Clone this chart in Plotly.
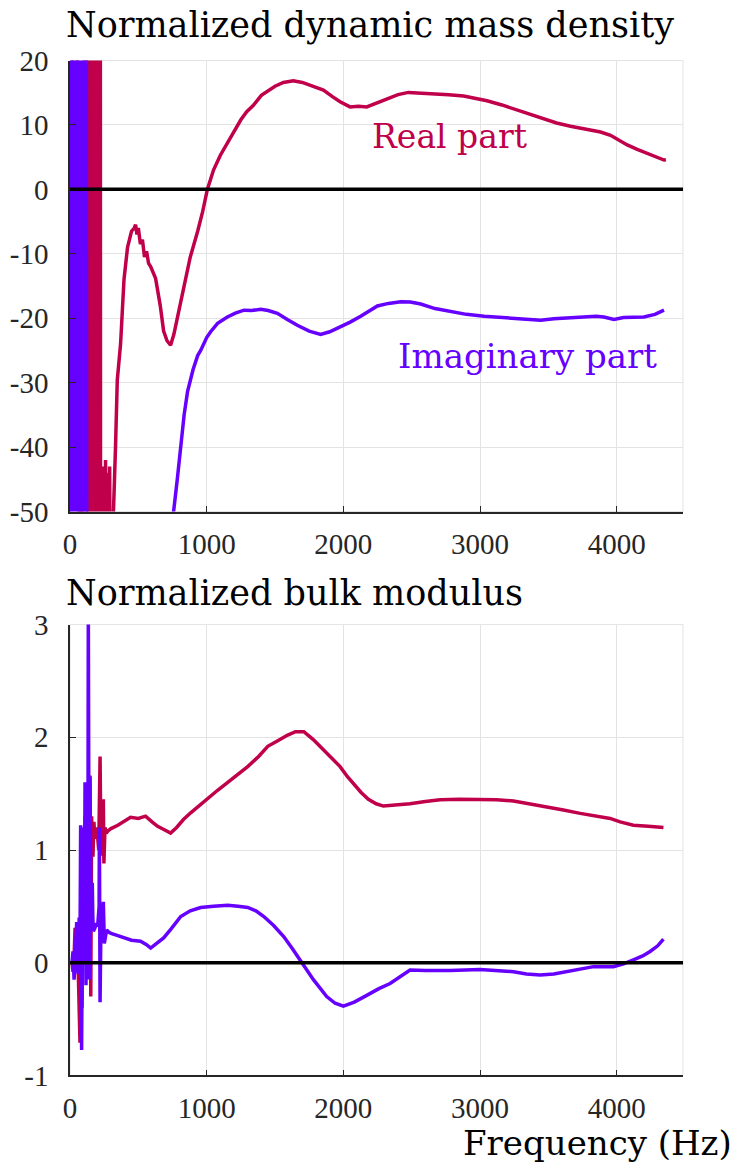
import plotly.graph_objects as go

# ---------------- data ----------------
# Top: normalized dynamic mass density
freq_rho_re = [0, 40, 80, 120, 130, 133, 136, 139, 142, 145, 148, 151, 154, 157, 160, 163, 166, 169, 172,
               190, 195, 200, 205, 210, 215, 220, 225,
               230, 235, 240, 245, 250, 255, 260, 265, 270, 275, 280, 285, 290, 295, 300, 305, 310, 315, 319,
               333, 346, 370, 395, 421, 450, 470, 480, 490, 500, 515, 530, 545, 560, 575, 590, 610, 626, 660,
               685, 710, 736, 760, 790, 832, 880, 934, 970, 1005, 1050, 1100, 1150, 1195, 1250, 1293, 1340,
               1400, 1440, 1500, 1561, 1634, 1700, 1781, 1854, 1920, 1976, 2049, 2110, 2171, 2240, 2318,
               2400, 2476, 2560, 2660, 2770, 2880, 2960, 3051, 3160, 3272, 3370, 3467, 3560, 3662, 3780,
               3882, 3955, 4020, 4077, 4150, 4224, 4290, 4346, 4360]
rho_re = [-30, 80, -100, 90, -150, 150, -150, 150, -150, 150, -150, 150, -150, 150, -150, 150, -150, 150, -150,
          150, -150, 150, -150, 150, -150, 150, -150,
          -44, -70, -43, -80, -46, -65, -42, -90, -60, -44, -75, -55, -43, -70, -52, -60, -55, -52, -50,
          -40, -29.6, -24, -14, -9, -6.5, -6.0, -5.5, -7, -6, -8.5, -7.8, -10.5, -9.6, -11.5, -12, -13, -13.8, -18,
          -22, -23.5, -24.2, -22.5, -19.5, -15.4, -10.5, -6.5, -3.5, 0, 3, 5.3, 7.2, 8.7, 10.8, 12.05, 13,
          14.6, 15.2, 16.0, 16.6, 16.85, 16.6, 16.0, 15.4, 14.4, 13.6, 12.8, 12.9, 12.8, 13.4, 14.0,
          14.7, 15.05, 14.95, 14.9, 14.7, 14.5, 14.2, 13.75, 13.1, 12.3, 11.6, 10.9, 10.3, 9.8, 9.3,
          8.9, 8.4, 7.6, 6.9, 6.2, 5.6, 5.0, 4.55, 4.6]

freq_rho_im = [0, 4, 8, 12, 16, 20, 24, 28, 32, 36, 40, 44, 48, 52, 56, 60, 64, 68, 72, 76, 80, 84, 88, 92,
               96, 100, 104, 108, 112, 116, 120,
               128, 150, 300, 450, 600, 700, 740, 758, 785, 810, 835, 860, 900, 934, 956, 1000, 1029, 1080,
               1151, 1210, 1273, 1330, 1395, 1450, 1517, 1590, 1663, 1750, 1834, 1900, 1981, 2050, 2127,
               2190, 2249, 2330, 2420, 2490, 2566, 2670, 2786, 2900, 3030, 3150, 3273, 3350, 3443, 3540,
               3638, 3750, 3850, 3906, 3980, 4050, 4120, 4199, 4280, 4346]
rho_im = [-27, 150, -150, 150, -150, 150, -150, 150, -150, 150, -150, 150, -150, 150, -150, 150, -150, 150,
          -150, 150, -150, 150, -150, 150, -150, 150, -150, 150, -150, 150, -150,
          -400, -900, -400, -200, -110, -72, -58, -50, -45, -39.7, -35, -31.4, -28, -25.8, -25, -23, -22.1, -20.8,
          -19.8, -19.2, -18.75, -18.8, -18.6, -18.8, -19.25, -20.2, -21.1, -22, -22.5, -22.1, -21.3, -20.6, -19.7,
          -18.8, -18.1, -17.7, -17.45, -17.5, -17.8, -18.5, -19.0, -19.4, -19.7, -19.9, -20.0, -20.1, -20.3, -20.1,
          -20.0, -19.9, -19.7, -19.8, -20.2, -19.9, -19.8, -19.8, -19.4, -18.75]

# Bottom: normalized bulk modulus
freq_k_re = [15, 22, 30, 37, 45, 55, 65, 73, 80, 88, 95, 102, 110, 118, 125, 132, 140, 146, 152, 158, 163,
             168, 175, 182, 190, 200, 210, 220, 226, 232, 238, 244, 248, 256, 265, 278, 300, 350, 400, 443,
             500, 553, 600, 641, 690, 736, 780, 830, 883, 950, 1007, 1080, 1154, 1230, 1300, 1380, 1447,
             1520, 1593, 1650, 1711, 1780, 1829, 1900, 1976, 2030, 2073, 2130, 2183, 2240, 2293, 2400, 2488,
             2600, 2708, 2850, 3001, 3120, 3245, 3370, 3489, 3610, 3733, 3850, 3952, 4025, 4122, 4230, 4342]
k_re = [0.0, -0.08, 0.05, 0.31, 0.0, 0.2, -0.3, -0.71, 0.2, -0.4, 0.9, 0.1, 1.3, 0.3, 1.5, 0.5, 1.1, 1.66,
        -0.3, 1.3, 1.0, 0.94, 1.25, 1.1, 1.2, 1.15, 1.0, 1.83, 1.05, 1.4, 0.95, 1.45, 0.88, 1.2, 1.15, 1.17,
        1.19, 1.22, 1.26, 1.29, 1.28, 1.3, 1.25, 1.21, 1.18, 1.15, 1.2, 1.27, 1.33, 1.4, 1.45, 1.53, 1.6, 1.67,
        1.74, 1.83, 1.92, 1.97, 2.02, 2.05, 2.05, 1.98, 1.92, 1.83, 1.74, 1.65, 1.59, 1.51, 1.45, 1.41, 1.39,
        1.4, 1.41, 1.43, 1.445, 1.45, 1.45, 1.445, 1.435, 1.41, 1.385, 1.355, 1.325, 1.3, 1.28, 1.25, 1.22,
        1.21, 1.2]

freq_k_im = [15, 22, 30, 37, 44, 49, 55, 61, 67, 73, 78, 82, 85, 90, 94, 97, 101, 105, 110, 114, 117, 122,
             127, 131, 134, 138, 141, 146, 150, 154, 158, 163, 167, 171, 180, 188, 195, 202, 207, 213, 215,
             220, 226, 232, 238, 244, 251, 258, 268, 285, 300, 350, 392, 450, 516, 560, 590, 640, 685, 740,
             810, 880, 956, 1050, 1154, 1230, 1300, 1360, 1418, 1490, 1565, 1630, 1689, 1781, 1878, 1940,
             2000, 2080, 2171, 2260, 2342, 2420, 2488, 2600, 2781, 3001, 3120, 3245, 3340, 3440, 3540, 3635,
             3730, 3830, 3976, 4050, 4122, 4190, 4244, 4300, 4342]
k_im = [0.0, 0.1, -0.15, 0.05, 0.2, 0.36, -0.05, -0.1, 0.4, 0.1, 1.22, 0.2, -0.775, 0.3, 0.1, 0.6, 1.2, 0.0,
        1.6, 0.4, -0.2, 1.5, 0.2, 0.6, 3.2, 0.3, -0.15, 1.65, 0.3, 0.3, 0.55, 0.71, 0.4, 0.28, 0.3, 0.33,
        0.35, 0.32, 0.45, 0.5, 1.2, -0.35, 0.3, 0.3, 0.4, 0.54, 0.17, 0.24, 0.29, 0.27, 0.26, 0.24, 0.22,
        0.2, 0.19, 0.16, 0.13, 0.18, 0.22, 0.3, 0.41, 0.46, 0.49, 0.5, 0.51, 0.5, 0.49, 0.46, 0.41, 0.33,
        0.23, 0.12, 0.01, -0.15, -0.3, -0.36, -0.385, -0.35, -0.29, -0.23, -0.185, -0.12, -0.065, -0.07,
        -0.07, -0.06, -0.07, -0.08, -0.1, -0.11, -0.1, -0.08, -0.06, -0.035, -0.035, -0.01, 0.025, 0.06,
        0.1, 0.15, 0.21]

x_ticks = [0, 1000, 2000, 3000, 4000]
rho_ticks = [-50, -40, -30, -20, -10, 0, 10, 20]
k_ticks = [-1, 0, 1, 2, 3]

titles = ["Normalized dynamic mass density", "Normalized bulk modulus"]
x_label = "Frequency (Hz)"
labels = ["Real part", "Imaginary part"]

# ---------------- style ----------------
RED = "#C0004A"
BLUE = "#6600FF"
AXC = "#262626"
GRID = "#e3e3e3"
W, H = 748, 1166
TICKFONT = dict(family="Liberation Serif", size=29, color=AXC)
TEXTFONT = "DejaVu Serif"
LW = 3.5

fig = go.Figure()
fig.add_trace(go.Scatter(x=freq_rho_re, y=rho_re, mode="lines", line=dict(color=RED, width=LW),
                         xaxis="x", yaxis="y", showlegend=False))
fig.add_trace(go.Scatter(x=freq_rho_im, y=rho_im, mode="lines", line=dict(color=BLUE, width=LW),
                         xaxis="x", yaxis="y", showlegend=False))
fig.add_trace(go.Scatter(x=freq_k_re, y=k_re, mode="lines", line=dict(color=RED, width=LW),
                         xaxis="x2", yaxis="y2", showlegend=False))
fig.add_trace(go.Scatter(x=freq_k_im, y=k_im, mode="lines", line=dict(color=BLUE, width=LW),
                         xaxis="x2", yaxis="y2", showlegend=False))

xdom = [70 / W, 683 / W]
top_dom = [(H - 511.5) / H, (H - 60.5) / H]
bot_dom = [(H - 1075.4) / H, (H - 624.6) / H]


def fmt(v):
    return ("-" if v < 0 else "") + str(abs(v))


common_x = dict(range=[0, 4485], tickvals=x_ticks, ticktext=[fmt(v) for v in x_ticks],
                showgrid=True, gridcolor=GRID, gridwidth=1,
                showline=True, linecolor=AXC, linewidth=1.5, ticks="inside", ticklen=6, tickcolor=AXC,
                tickfont=TICKFONT, zeroline=False, domain=xdom, ticklabelstandoff=6, automargin=False)
common_y = dict(showgrid=True, gridcolor=GRID, gridwidth=1, showline=True, linecolor=AXC, linewidth=1.5,
                ticks="inside", ticklen=6, tickcolor=AXC, tickfont=TICKFONT, zeroline=False,
                ticklabelstandoff=14, automargin=False)

fig.update_layout(
    width=W, height=H,
    margin=dict(l=0, r=0, t=0, b=0),
    paper_bgcolor="white", plot_bgcolor="white",
    xaxis=dict(**common_x, anchor="y"),
    yaxis=dict(**common_y, range=[-50, 20], tickvals=rho_ticks, ticktext=[fmt(v) for v in rho_ticks],
               domain=top_dom, anchor="x"),
    xaxis2=dict(**common_x, anchor="y2"),
    yaxis2=dict(**common_y, range=[-1, 3], tickvals=k_ticks, ticktext=[fmt(v) for v in k_ticks],
                domain=bot_dom, anchor="x2"),
)

# light box and zero lines
for xr, yr, ydomref in [("x", "y", "y domain"), ("x2", "y2", "y2 domain")]:
    fig.add_shape(type="rect", xref=xr + " domain", yref=ydomref, x0=0, x1=1, y0=0, y1=1,
                  line=dict(color=GRID, width=1), layer="below")
    fig.add_shape(type="line", xref=xr + " domain", yref=yr, x0=0, x1=1, y0=0, y1=0,
                  line=dict(color="black", width=3.5), layer="above")

# titles
fig.add_annotation(text=titles[0], xref="paper", yref="paper", x=64 / W, y=(H - 25) / H,
                   xanchor="left", yanchor="middle", showarrow=False,
                   font=dict(family=TEXTFONT, size=35, color="black"))
fig.add_annotation(text=titles[1], xref="paper", yref="paper", x=64 / W, y=(H - 593) / H,
                   xanchor="left", yanchor="middle", showarrow=False,
                   font=dict(family=TEXTFONT, size=35, color="black"))
fig.add_annotation(text=x_label, xref="paper", yref="paper", x=734 / W, y=(H - 1143) / H,
                   xanchor="right", yanchor="middle", showarrow=False,
                   font=dict(family=TEXTFONT, size=34, color="black"))

# curve labels
fig.add_annotation(text=labels[0], xref="x", yref="y", x=2780, y=8.2, showarrow=False,
                   xanchor="center", yanchor="middle", font=dict(family=TEXTFONT, size=33, color=RED))
fig.add_annotation(text=labels[1], xref="x", yref="y", x=3350, y=-25.9, showarrow=False,
                   xanchor="center", yanchor="middle", font=dict(family=TEXTFONT, size=34, color=BLUE))

fig.write_html("out.html", config={"displayModeBar": False},
               post_script="document.body.style.margin='0';document.body.style.padding='0';")
